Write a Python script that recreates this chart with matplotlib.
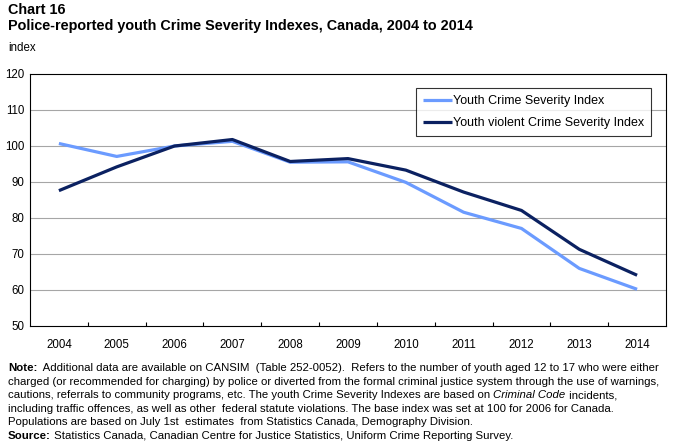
import matplotlib
matplotlib.use("Agg")
import matplotlib.pyplot as plt

years = ["2004", "2005", "2006", "2007", "2008", "2009", "2010", "2011", "2012", "2013", "2014"]
youth_csi = [100.7, 97.1, 100.0, 101.3, 95.5, 95.6, 89.9, 81.6, 77.1, 66.0, 60.2]
youth_violent_csi = [87.6, 94.2, 100.0, 101.8, 95.7, 96.5, 93.3, 87.2, 82.1, 71.3, 64.1]
series_names = ["Youth Crime Severity Index", "Youth violent Crime Severity Index"]
y_ticks = [50, 60, 70, 80, 90, 100, 110, 120]

plt.rcParams['font.family'] = ['Liberation Sans', 'DejaVu Sans']

W, H = 675, 445
fig = plt.figure(figsize=(W / 100, H / 100), dpi=100)
ax = fig.add_axes([30 / W, 1 - 326 / H, 636 / W, 252 / H])

x = list(range(len(years)))
ax.plot(x, youth_csi, color="#6B9BFF", lw=2.3, label=series_names[0], solid_capstyle="butt", zorder=3)
ax.plot(x, youth_violent_csi, color="#0B2161", lw=2.3, label=series_names[1], solid_capstyle="butt", zorder=4)

ax.set_xlim(-0.5, len(years) - 0.5)
ax.set_ylim(50, 120)
ax.set_yticks(y_ticks)
ax.set_yticklabels([str(v) for v in y_ticks], fontsize=8.3)
ax.set_xticks(x)
ax.set_xticklabels(years, fontsize=8.3)
ax.set_xticks([i + 0.5 for i in range(len(years) - 1)], minor=True)
ax.tick_params(axis='x', which='major', length=0, pad=9)
ax.tick_params(axis='x', which='minor', length=3, direction='in', width=0.8)
ax.tick_params(axis='y', length=0, pad=4)
for v in y_ticks[1:-1]:
    ax.axhline(v, color="#A6A6A6", lw=0.8, zorder=1)
for s in ax.spines.values():
    s.set_color("black")
    s.set_linewidth(0.8)

leg = ax.legend(loc="upper right", bbox_to_anchor=(651 / W, 1 - 88 / H), bbox_transform=fig.transFigure,
                fontsize=9, frameon=True, fancybox=False, edgecolor="black", handlelength=2.3,
                handletextpad=0.1, borderpad=0.55, labelspacing=0.8, borderaxespad=0)
leg.get_frame().set_linewidth(0.8)
leg.set_zorder(5)

fig.text(8 / W, 1 - 3 / H, "Chart 16", fontsize=10.4, fontweight="bold", va="top")
fig.text(8 / W, 1 - 19 / H, "Police-reported youth Crime Severity Indexes, Canada, 2004 to 2014",
         fontsize=10.4, fontweight="bold", va="top")
fig.text(8 / W, 1 - 42 / H, "index", fontsize=8.3, va="top")

renderer = fig.canvas.get_renderer()
fs = 8.2

def runs(y, parts):
    xpos = 8
    for txt, style in parts:
        kw = {}
        if style == "b":
            kw["fontweight"] = "bold"
        elif style == "i":
            kw["fontstyle"] = "italic"
        t = fig.text(xpos / W, 1 - y / H, txt, fontsize=fs, va="top", **kw)
        bb = t.get_window_extent(renderer=renderer)
        xpos += bb.width

lines = [
    [("Note:", "b"), ("  Additional data are available on CANSIM  (Table 252-0052).  Refers to the number of youth aged 12 to 17 who were either", "")],
    [("charged (or recommended for charging) by police or diverted from the formal criminal justice system through the use of warnings,", "")],
    [("cautions, referrals to community programs, etc. The youth Crime Severity Indexes are based on ", ""), ("Criminal Code", "i"), (" incidents,", "")],
    [("including traffic offences, as well as other  federal statute violations. The base index was set at 100 for 2006 for Canada.", "")],
    [("Populations are based on July 1st  estimates  from Statistics Canada, Demography Division.", "")],
    [("Source:", "b"), (" Statistics Canada, Canadian Centre for Justice Statistics, Uniform Crime Reporting Survey.", "")],
]
y0 = 363
for i, parts in enumerate(lines):
    runs(y0 + i * 13.6, parts)

fig.savefig("out.png", dpi=100)
